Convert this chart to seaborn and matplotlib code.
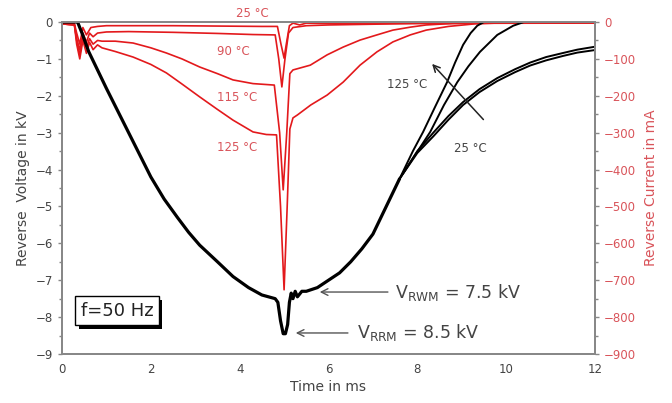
import numpy as np
import matplotlib
matplotlib.use('Agg')
import matplotlib.pyplot as plt
import matplotlib.patheffects as pe
import seaborn as sns

# reverse voltage (kV), common part up to the branch point
t_v = [0, 0.35, 0.45, 0.6, 0.8, 1.0, 1.5, 2.0, 2.3, 2.6, 2.85, 3.1, 3.5, 3.85, 4.2, 4.5, 4.8,
       4.86, 4.92, 4.98, 5.03, 5.08, 5.12, 5.16, 5.2, 5.25, 5.3, 5.4, 5.5, 5.75, 6.0,
       6.25, 6.5, 6.75, 7.0, 7.3, 7.6]
v_common = [0, 0, -0.3, -0.8, -1.3, -1.8, -3.0, -4.2, -4.8, -5.3, -5.7, -6.05, -6.5, -6.9,
            -7.2, -7.4, -7.5, -7.6, -8.1, -8.45, -8.45, -8.2, -7.6, -7.35, -7.5, -7.3, -7.45,
            -7.3, -7.3, -7.2, -7.0, -6.8, -6.5, -6.15, -5.75, -5.0, -4.25]

# voltage tails per temperature
t_v125 = [7.6, 7.9, 8.13, 8.4, 8.67, 8.85, 9.03, 9.2, 9.35, 9.5, 12]
v125 = [-4.25, -3.5, -2.98, -2.3, -1.63, -1.1, -0.62, -0.3, -0.1, 0, 0]
t_v115 = [7.6, 7.9, 8.29, 8.6, 8.9, 9.15, 9.41, 9.8, 10.16, 10.4, 12]
v115 = [-4.25, -3.7, -2.98, -2.25, -1.63, -1.2, -0.81, -0.35, -0.1, 0, 0]
t_v90 = [7.6, 8.0, 8.36, 8.7, 9.03, 9.4, 9.8, 10.2, 10.54, 10.9, 11.28, 11.6, 12.0]
v90 = [-4.25, -3.5, -3.0, -2.55, -2.17, -1.82, -1.52, -1.28, -1.1, -0.95, -0.84, -0.75, -0.67]
t_v25 = [7.6, 8.0, 8.36, 8.7, 9.03, 9.4, 9.8, 10.2, 10.54, 10.9, 11.28, 11.6, 12.0]
v25 = [-4.25, -3.55, -3.1, -2.65, -2.25, -1.9, -1.6, -1.36, -1.18, -1.04, -0.92, -0.83, -0.76]

# reverse current (mA)
t_i125 = [0, 0.28, 0.33, 0.4, 0.47, 0.55, 0.62, 0.7, 0.8, 0.9, 1.2, 1.6, 2.0, 2.35, 2.7, 3.1,
          3.5, 3.85, 4.3, 4.6, 4.83, 4.92, 5.0, 5.07, 5.13, 5.2, 5.3, 5.6, 5.97, 6.33, 6.71,
          7.09, 7.45, 7.84, 8.2, 8.7, 9.3, 10, 12]
i125 = [-5, -8, -60, -100, -50, -85, -55, -75, -62, -70, -80, -95, -115, -138, -168, -203,
        -237, -266, -298, -305, -306, -500, -726, -500, -290, -260, -252, -225, -198, -163,
        -117, -81, -54, -35, -22, -12, -5, -2, 0]
t_i115 = [0, 0.28, 0.33, 0.4, 0.47, 0.55, 0.62, 0.7, 0.8, 0.9, 1.2, 1.6, 2.0, 2.35, 2.7, 3.1,
          3.5, 3.85, 4.3, 4.78, 4.9, 4.98, 5.06, 5.13, 5.2, 5.59, 5.97, 6.33, 6.71, 7.09, 7.45,
          7.84, 8.2, 8.8, 10, 12]
i115 = [-5, -8, -50, -90, -40, -70, -45, -60, -50, -52, -52, -57, -70, -84, -100, -122,
        -140, -157, -167, -171, -300, -455, -300, -140, -130, -117, -89, -68, -49, -35, -22,
        -14, -8, -4, -2, 0]
t_i90 = [0, 0.28, 0.33, 0.4, 0.47, 0.55, 0.62, 0.7, 0.8, 1.0, 1.5, 2.5, 3.5, 4.3, 4.8, 4.88,
         4.95, 5.02, 5.1, 5.2, 5.5, 6.0, 7.0, 8.0, 12]
i90 = [-5, -8, -45, -75, -30, -55, -30, -40, -30, -27, -26, -28, -31, -34, -35, -100,
       -176, -100, -30, -15, -10, -8, -6, -4, -2]
t_i25 = [0, 0.28, 0.33, 0.4, 0.47, 0.55, 0.65, 0.8, 1.0, 2.5, 4.5, 4.85, 4.93, 5.0, 5.05,
         5.12, 5.2, 5.35, 5.5, 6, 12]
i25 = [-3, -5, -30, -60, -15, -35, -15, -12, -10, -10, -12, -12, -60, -98, -60, -10, -3, -8,
       -3, -4, -3]

x_ticks = [0, 2, 4, 6, 8, 10, 12]
v_ticks = list(range(-9, 1))
i_ticks = list(range(-900, 1, 100))

RED = '#e3191c'
LABEL_RED = '#d9545a'
GRAY_TXT = '#444444'
SPINE = '#888888'

sns.set_theme(style='white')
plt.rcParams['font.family'] = ['DejaVu Sans']
plt.rcParams['mathtext.fontset'] = 'dejavusans'

fig = plt.figure(figsize=(6.72, 4.03), dpi=100)
ax = fig.add_axes([62 / 672, 49 / 403, 533 / 672, 332 / 403])
ax2 = ax.twinx()

# voltage curves on the left axis
sns.lineplot(x=t_v, y=v_common, ax=ax, color='black', linewidth=2.3,
             estimator=None, sort=False)
for tt, vv in [(t_v125, v125), (t_v115, v115), (t_v90, v90), (t_v25, v25)]:
    sns.lineplot(x=tt, y=vv, ax=ax, color='black', linewidth=1.4,
                 estimator=None, sort=False)

# current curves on the right axis
for tt, ii in [(t_i25, i25), (t_i90, i90), (t_i115, i115), (t_i125, i125)]:
    sns.lineplot(x=tt, y=ii, ax=ax2, color=RED, linewidth=1.2,
                 estimator=None, sort=False)

ax.set_xlim(0, 12)
ax.set_ylim(-9, 0)
ax2.set_ylim(-900, 0)
ax.set_xticks(x_ticks)
ax.set_yticks(v_ticks)
ax2.set_yticks(i_ticks)
ax.set_xticks(np.arange(1, 12, 2), minor=True)
ax.set_yticks(np.arange(-8.5, 0, 1), minor=True)
ax2.set_yticks(np.arange(-850, 0, 100), minor=True)

ax.set_zorder(ax2.get_zorder() + 1)
ax.patch.set_visible(False)

for a in (ax, ax2):
    for s in a.spines.values():
        s.set_color(SPINE)
        s.set_linewidth(1.4)
ax.tick_params(axis='both', which='major', length=3, width=1, color=SPINE,
               labelsize=8.5, labelcolor=GRAY_TXT, direction='out')
ax.tick_params(axis='both', which='minor', length=2, width=1, color=SPINE,
               direction='out')
ax2.tick_params(axis='y', which='major', length=3, width=1, color=SPINE,
                labelsize=8.5, labelcolor=LABEL_RED, direction='out')
ax2.tick_params(axis='y', which='minor', length=2, width=1, color=SPINE,
                direction='out')

ax.set_xlabel('Time in ms', fontsize=10, color=GRAY_TXT, labelpad=3)
ax.set_ylabel('Reverse  Voltage in kV', fontsize=10, color=GRAY_TXT, labelpad=4)
ax2.set_ylabel('Reverse Current in mA', fontsize=10, color=LABEL_RED, labelpad=6)

# temperature labels of the current curves
for tx, ty, s in [(4.28, 0.22, '25 °C'), (3.85, -0.81, '90 °C'),
                  (3.94, -2.06, '115 °C'), (3.94, -3.41, '125 °C')]:
    ax.text(tx, ty, s, fontsize=8.5, color=LABEL_RED, ha='center', va='center',
            clip_on=False)

# temperature arrow for the voltage tails
ax.annotate('', xy=(8.29, -1.08), xytext=(9.53, -2.7),
            arrowprops=dict(arrowstyle='->', color='#222222', lw=1.1))
ax.text(7.77, -1.7, '125 °C', fontsize=8.5, color=GRAY_TXT, ha='center', va='center')
ax.text(9.19, -3.43, '25 °C', fontsize=8.5, color=GRAY_TXT, ha='center', va='center')

# V_RWM / V_RRM annotations
ax.annotate('', xy=(5.74, -7.32), xytext=(7.4, -7.32),
            arrowprops=dict(arrowstyle='->', color='#555555', lw=1.0))
ax.text(7.5, -7.32, r'V$_{\mathrm{RWM}}$ = 7.5 kV', fontsize=12.5, color=GRAY_TXT,
        ha='left', va='center')
ax.annotate('', xy=(5.2, -8.43), xytext=(6.5, -8.43),
            arrowprops=dict(arrowstyle='->', color='#555555', lw=1.0))
ax.text(6.65, -8.43, r'V$_{\mathrm{RRM}}$ = 8.5 kV', fontsize=12.5, color=GRAY_TXT,
        ha='left', va='center')

# frequency box with drop shadow
ftxt = ax.text(1.24, -7.83, 'f=50 Hz', fontsize=13, color='#222222', ha='center',
               va='center',
               bbox=dict(boxstyle='square,pad=0.3', facecolor='white',
                         edgecolor='black', lw=1))
ftxt.get_bbox_patch().set_path_effects([
    pe.SimplePatchShadow(offset=(2.5, -2.5), shadow_rgbFace='black', alpha=1),
    pe.Normal(),
])

fig.savefig('out.png', dpi=100)
